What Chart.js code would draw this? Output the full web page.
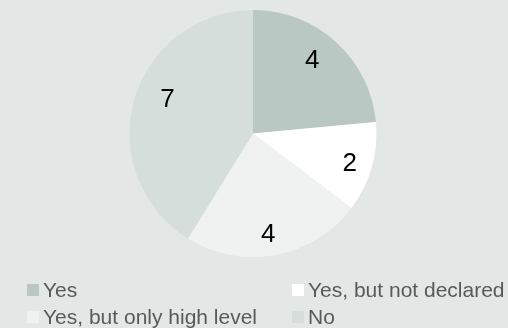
<!DOCTYPE html>
<html>
<head>
<meta charset="utf-8">
<script src="https://cdn.jsdelivr.net/npm/chart.js@4/dist/chart.umd.min.js"></script>
<style>
    html, body { margin: 0; padding: 0; background: #e3e8e6; }
    #wrap { position: relative; width: 508px; height: 328px; }
    #pieChart { position: absolute; left: 0; top: 0; }
    .legend-item {
        position: absolute;
        height: 24px;
        display: flex;
        align-items: center;
        font-family: "Liberation Sans", Arial, sans-serif;
        font-size: 21px;
        color: #595959;
        white-space: nowrap;
    }
    .legend-item .box {
        width: 12px;
        height: 12px;
        margin-right: 4px;
        flex: none;
    }
</style>
</head>
<body>
<div id="wrap">
    <canvas id="pieChart" width="508" height="328"></canvas>
</div>
<script>
const labels = ['Yes', 'Yes, but not declared', 'Yes, but only high level', 'No'];
const counts = [4, 2, 4, 7];
const sliceColors = ['#b9c8c3', '#ffffff', '#f0f2f1', '#d5dedb'];

// where each value label sits: fraction of radius, and angle nudge in degrees
const labelRadius = [0.77, 0.817, 0.81, 0.75];
const labelNudge = [-3.9, 0.6, 1.8, 6.8];

// legend slots (left, top) in the 2-column grid below the pie
const legendSlots = [[27, 278], [292, 278], [27, 305], [292, 305]];

// draw the counts inside each slice
const sliceValues = {
    id: 'sliceValues',
    afterDatasetsDraw(chart) {
        const ctx = chart.ctx;
        const meta = chart.getDatasetMeta(0);
        const size = 26;
        ctx.save();
        ctx.font = size + 'px "Liberation Sans", Arial, sans-serif';
        ctx.fillStyle = '#000000';
        ctx.textAlign = 'center';
        ctx.textBaseline = 'alphabetic';
        meta.data.forEach((arc, i) => {
            const mid = (arc.startAngle + arc.endAngle) / 2 + labelNudge[i] * Math.PI / 180;
            const r = arc.outerRadius * labelRadius[i];
            const x = arc.x + Math.cos(mid) * r;
            const y = arc.y + Math.sin(mid) * r;
            ctx.fillText(String(counts[i]), x, y + size * 0.358);
        });
        ctx.restore();
    }
};

const ctx = document.getElementById('pieChart').getContext('2d');
new Chart(ctx, {
    type: 'pie',
    data: {
        labels: labels,
        datasets: [{
            data: counts,
            backgroundColor: sliceColors,
            borderWidth: 0
        }]
    },
    options: {
        responsive: false,
        animation: false,
        layout: { padding: { top: 10, bottom: 71, left: 0, right: 2 } },
        plugins: {
            legend: { display: false },
            tooltip: { enabled: false }
        }
    },
    plugins: [sliceValues]
});

// simple html legend
const wrap = document.getElementById('wrap');
labels.forEach((label, i) => {
    const item = document.createElement('div');
    item.className = 'legend-item';
    item.style.left = legendSlots[i][0] + 'px';
    item.style.top = legendSlots[i][1] + 'px';
    item.innerHTML = `<span class="box" style="background:${sliceColors[i]}"></span>${label}`;
    wrap.appendChild(item);
});
</script>
</body>
</html>
